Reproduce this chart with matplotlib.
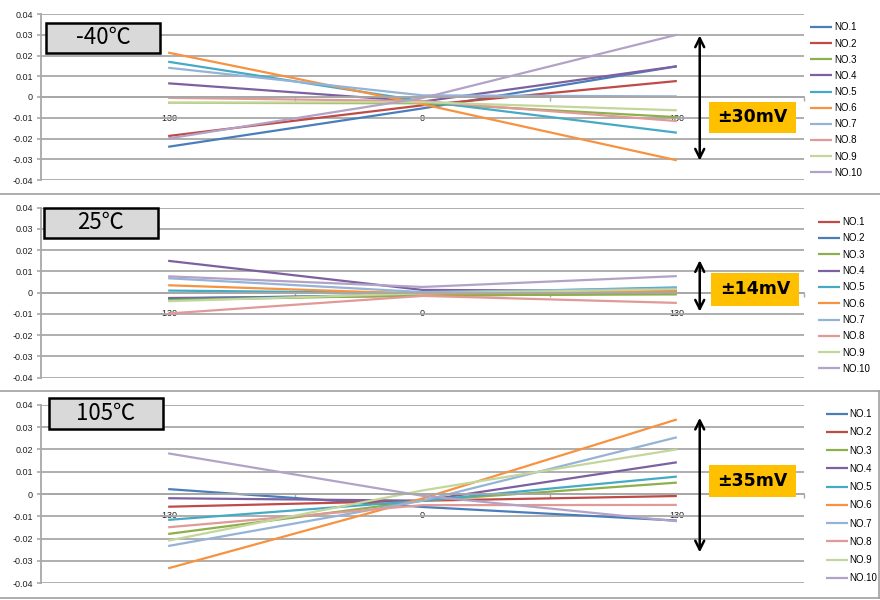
import matplotlib
matplotlib.use('Agg')
import matplotlib.pyplot as plt
from matplotlib.patches import Rectangle
from matplotlib.lines import Line2D

plt.rcParams['font.family'] = ['Liberation Sans', 'DejaVu Sans']

# categories (x axis)
temps = ['-130', '0', '130']
names = ['NO.1', 'NO.2', 'NO.3', 'NO.4', 'NO.5', 'NO.6', 'NO.7', 'NO.8', 'NO.9', 'NO.10']

# -40 C
m40_no1 = [-0.0240, -0.0055, 0.0148]
m40_no2 = [-0.0188, -0.0040, 0.0077]
m40_no3 = [-0.0028, -0.0030, -0.0097]
m40_no4 = [0.0066, -0.0022, 0.0148]
m40_no5 = [0.0170, -0.0020, -0.0172]
m40_no6 = [0.0214, -0.0035, -0.0305]
m40_no7 = [0.0141, 0.0008, 0.0003]
m40_no8 = [-0.0004, -0.0020, -0.0116]
m40_no9 = [-0.0028, -0.0025, -0.0064]
m40_no10 = [-0.0200, -0.0005, 0.0300]

# 25 C
p25_no1 = [-0.0025, -0.0015, -0.0002]
p25_no2 = [-0.0028, -0.0008, 0.0018]
p25_no3 = [-0.0035, -0.0012, -0.0008]
p25_no4 = [0.0150, 0.0013, 0.0008]
p25_no5 = [0.0010, -0.0002, 0.0025]
p25_no6 = [0.0035, -0.0005, 0.0005]
p25_no7 = [0.0068, 0.0003, 0.0020]
p25_no8 = [-0.0098, -0.0015, -0.0048]
p25_no9 = [-0.0040, -0.0003, 0.0016]
p25_no10 = [0.0077, 0.0027, 0.0078]

# 105 C
p105_no1 = [0.0022, -0.0058, -0.0119]
p105_no2 = [-0.0057, -0.0030, -0.0009]
p105_no3 = [-0.0179, -0.0030, 0.0051]
p105_no4 = [-0.0019, -0.0030, 0.0142]
p105_no5 = [-0.0116, -0.0030, 0.0078]
p105_no6 = [-0.0333, -0.0020, 0.0334]
p105_no7 = [-0.0233, -0.0030, 0.0254]
p105_no8 = [-0.0149, -0.0050, -0.0049]
p105_no9 = [-0.0209, 0.0016, 0.0200]
p105_no10 = [0.0182, -0.0008, -0.0122]

m40 = [m40_no1, m40_no2, m40_no3, m40_no4, m40_no5, m40_no6, m40_no7, m40_no8, m40_no9, m40_no10]
p25 = [p25_no1, p25_no2, p25_no3, p25_no4, p25_no5, p25_no6, p25_no7, p25_no8, p25_no9, p25_no10]
p105 = [p105_no1, p105_no2, p105_no3, p105_no4, p105_no5, p105_no6, p105_no7, p105_no8, p105_no9, p105_no10]

cols = ['#4A7EBB', '#BE4B48', '#8DB04A', '#7D60A0', '#46AAC5',
        '#F69240', '#95B3D7', '#E09A98', '#C3D69B', '#B3A2C7']
# 25C chart has NO.1 / NO.2 colours swapped
cols25 = ['#BE4B48', '#4A7EBB'] + cols[2:]

yt = [0.04, 0.03, 0.02, 0.01, 0, -0.01, -0.02, -0.03, -0.04]
ytl = ['0.04', '0.03', '0.02', '0.01', '0', '-0.01', '-0.02', '-0.03', '-0.04']

W, H = 880, 600
fig = plt.figure(figsize=(8.8, 6), dpi=100)

def fx(p):
    return p / W

def fy(p):
    return 1 - p / H

grid = '#A8A8A8'

def panel(top, bot, data, colors, title, box, tag, obox, arr, leg_x, leg_y, leg_sp):
    ax = fig.add_axes([fx(41), fy(bot), fx(763), (bot - top) / H])
    x = range(len(temps))
    for vals, c, n in zip(data, colors, names):
        ax.plot(x, vals, color=c, lw=1.6, label=n, solid_capstyle='butt')
    ax.set_xlim(-0.5, 2.5)
    ax.set_ylim(-0.04, 0.04)
    ax.set_yticks(yt)
    ax.set_yticklabels(ytl)
    ax.yaxis.grid(True, color=grid, lw=1.3)
    ax.set_axisbelow(True)
    for s in ['top', 'right']:
        ax.spines[s].set_visible(False)
    ax.spines['left'].set_color(grid)
    ax.spines['left'].set_linewidth(1.3)
    ax.spines['bottom'].set_position(('data', 0))
    ax.spines['bottom'].set_color(grid)
    ax.spines['bottom'].set_linewidth(1.3)
    ax.set_xticks(list(x))
    ax.set_xticklabels(temps)
    ax.set_xticks([0.5, 1.5, 2.5], minor=True)
    ax.tick_params(axis='x', which='major', length=0, pad=12, labelsize=6.5, labelcolor='#222222')
    ax.tick_params(axis='x', which='minor', length=3, color=grid, width=1)
    ax.tick_params(axis='y', length=3, color=grid, width=1.2, pad=3, labelsize=6.5, labelcolor='#222222')

    # temperature label box
    bx0, by0, bx1, by1 = box
    fig.add_artist(Rectangle((fx(bx0), fy(by1)), fx(bx1 - bx0), (by1 - by0) / H,
                             transform=fig.transFigure, facecolor='#D9D9D9',
                             edgecolor='black', lw=1.8))
    fig.text(fx((bx0 + bx1) / 2), fy((by0 + by1) / 2), title, ha='center', va='center',
             fontsize=16, family=['Noto Sans CJK KR', 'DejaVu Sans'])

    # +/- mV tag
    ox0, oy0, ox1, oy1 = obox
    fig.add_artist(Rectangle((fx(ox0), fy(oy1)), fx(ox1 - ox0), (oy1 - oy0) / H,
                             transform=fig.transFigure, facecolor='#FFC000', edgecolor='none'))
    fig.text(fx((ox0 + ox1) / 2), fy((oy0 + oy1) / 2), tag, ha='center', va='center',
             fontsize=12.5, fontweight='bold', family=['DejaVu Sans'])

    ax.annotate('', xy=(2.09, arr[0]), xytext=(2.09, arr[1]),
                arrowprops=dict(arrowstyle='<->', lw=1.8, color='black', mutation_scale=16),
                annotation_clip=False)

    ax.legend(loc='upper left', bbox_to_anchor=(fx(leg_x), fy(leg_y)), bbox_transform=fig.transFigure,
              frameon=False, fontsize=7, borderaxespad=0, borderpad=0,
              handlelength=2.3, handletextpad=0.15, labelspacing=leg_sp)
    return ax

panel(14, 180, m40, cols, '-40\u2103', (46, 23, 160, 53), '\u00b130mV', (709, 102, 796, 133),
      (0.031, -0.032), 810, 22.5, 0.63)
panel(207.7, 377.7, p25, cols25, '25\u2103', (44, 208, 158, 238), '\u00b114mV', (711, 273, 799, 306),
      (0.0166, -0.0102), 818, 217, 0.65)
panel(404.7, 583.3, p105, cols, '105\u2103', (49, 398, 163, 429), '\u00b135mV', (709, 465, 796, 497),
      (0.0354, -0.0274), 825.5, 409, 0.85)

# chart borders between the three panels
for yy in [193.5, 390.5, 597.5]:
    fig.add_artist(Line2D([0, 1], [fy(yy), fy(yy)], transform=fig.transFigure, color='#A0A0A0', lw=1.2))
fig.add_artist(Line2D([fx(879), fx(879)], [fy(390.5), fy(597.5)], transform=fig.transFigure,
                      color='#A0A0A0', lw=1.2))

fig.savefig('out.png', dpi=100)
